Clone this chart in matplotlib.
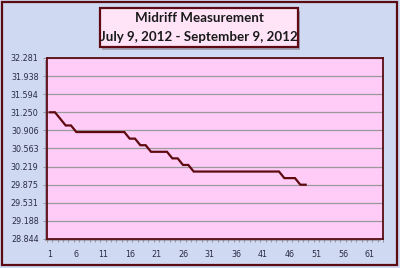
import matplotlib
matplotlib.use("Agg")
import matplotlib.pyplot as plt
from matplotlib.patches import Rectangle
import numpy as np

# ---- data ----
days = list(range(1, 50))
measurements = (
    [31.25, 31.25, 31.125, 31.0, 31.0]
    + [30.875] * 10
    + [30.75, 30.75, 30.625, 30.625]
    + [30.5] * 4
    + [30.375, 30.375, 30.25, 30.25]
    + [30.125] * 17
    + [30.0, 30.0, 30.0, 29.875, 29.875]
)
y_ticks = [28.844, 29.188, 29.531, 29.875, 30.219, 30.563, 30.906,
           31.250, 31.594, 31.938, 32.281]
x_ticks = [1, 6, 11, 16, 21, 26, 31, 36, 41, 46, 51, 56, 61]
n_categories = 63
title_lines = ["Midriff Measurement", "July 9, 2012 - September 9, 2012"]

W, H = 400, 268
fig = plt.figure(figsize=(W / 100, H / 100), dpi=100)
fig.patch.set_facecolor("#cfdaf2")

# outer frame
fig.patches.append(Rectangle((2 / W, 3 / H), 395 / W, 263 / H, transform=fig.transFigure,
                             fill=False, edgecolor="#5a0c12", linewidth=1.6, zorder=-2))

L, R, T, B = 47, 383, 58, 239
ax = fig.add_axes([L / W, 1 - B / H, (R - L) / W, (B - T) / H])
ax.set_zorder(1)
ax.set_facecolor("#ffccf8")

# shadow for plot area
fig.patches.append(Rectangle(((L - 2) / W, 1 - (B + 2) / H), (R - L) / W, (B - T) / H,
                             transform=fig.transFigure, facecolor="#7a6a80", alpha=0.5,
                             edgecolor="none", zorder=-1))

ax.plot(days, measurements, color="#5e0a0f", linewidth=1.6, solid_joinstyle="miter", zorder=3)

ax.set_xlim(0.5, n_categories + 0.5)
ax.set_ylim(y_ticks[0], y_ticks[-1])
ax.set_yticks(y_ticks)
ax.set_yticklabels([f"{v:.3f}" for v in y_ticks])
ax.set_xticks(x_ticks)
ax.set_xticklabels([str(v) for v in x_ticks])
ax.set_xticks(np.arange(0.5, n_categories + 1, 1), minor=True)
ax.grid(axis="y", color="#9a9a9a", linewidth=0.9)
ax.set_axisbelow(True)

ax.tick_params(axis="y", length=3, width=0.6, color="#888888", labelsize=5.8,
               labelcolor="#2b2b45", pad=3)
ax.tick_params(axis="x", which="major", length=0, labelsize=5.8,
               labelcolor="#2b2b45", pad=8)
ax.tick_params(axis="x", which="minor", length=2.5, width=0.6, color="#888888")

for s in ax.spines.values():
    s.set_color("#5a0c12")
    s.set_linewidth(1.3)

# title box
bx0, by0, bx1, by1 = 100, 8, 298, 47
fig.patches.append(Rectangle(((bx0 + 2) / W, 1 - (by1 + 3) / H), (bx1 - bx0) / W, (by1 - by0) / H,
                             transform=fig.transFigure, facecolor="#6a6070", alpha=0.45,
                             edgecolor="none", zorder=2))
fig.patches.append(Rectangle((bx0 / W, 1 - by1 / H), (bx1 - bx0) / W, (by1 - by0) / H,
                             transform=fig.transFigure, facecolor="#ffe4f8",
                             edgecolor="#5e0a14", linewidth=1.6, zorder=3))
fig.text((bx0 + bx1) / 2 / W, 1 - 18 / H, title_lines[0], ha="center", va="center",
         fontsize=9.6, fontweight="bold", family="Lato", color="#1a1a1a", zorder=4)
fig.text((bx0 + bx1) / 2 / W, 1 - 37 / H, title_lines[1], ha="center", va="center",
         fontsize=9.6, fontweight="bold", family="Lato", color="#1a1a1a", zorder=4)

fig.savefig("out.png", dpi=100, facecolor=fig.get_facecolor())
